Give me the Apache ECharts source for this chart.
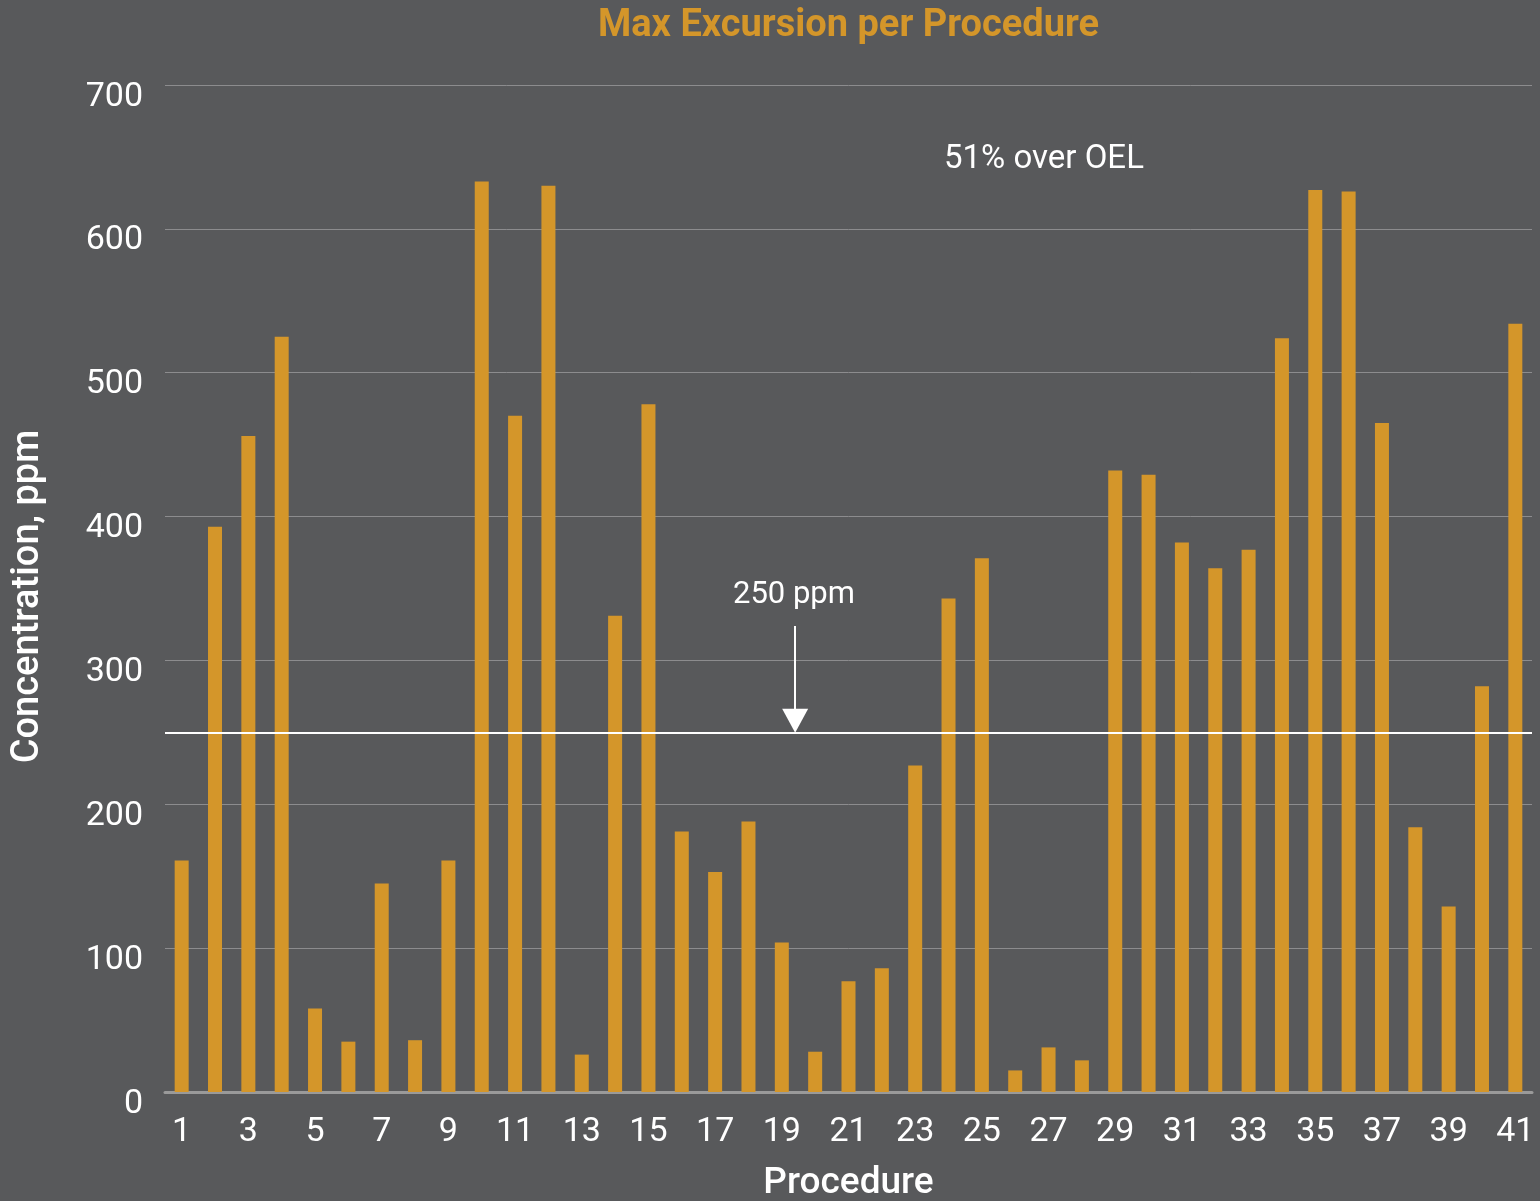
<!DOCTYPE html>
<html lang="en">
<head>
    <meta charset="UTF-8">
    <title>Max Excursion per Procedure</title>
    <script type="text/javascript" src="https://cdn.jsdelivr.net/npm/echarts@6/dist/echarts.min.js"></script>
    <style>
        html, body { margin: 0; padding: 0; background: #58595b; }
        #container { width: 1540px; height: 1201px; }
    </style>
</head>
<body>
<div id="container"></div>
<script type="text/javascript">
    // procedure numbers
    var procedures = [];
    for (var i = 1; i <= 41; i++) { procedures.push(String(i)); }
    // max concentration per procedure, ppm
    var concentration = [161, 393, 456, 525, 58, 35, 145, 36, 161, 633,
        470, 630, 26, 331, 478, 181, 153, 188, 104, 28,
        77, 86, 227, 343, 371, 15, 31, 22, 432, 429,
        382, 364, 377, 524, 627, 626, 465, 184, 129, 282, 534];
    var oel = 250;
    // arrow for the OEL label: x position (procedure), from / to value
    // (the head is centred on its end point, so stop a bit above the line)
    var arrowX = 19.4;
    var arrowFrom = 324;
    var arrowTo = 258;

    var dom = document.getElementById('container');
    var myChart = echarts.init(dom, null, { renderer: 'canvas' });

    var font = 'Roboto, "Noto Sans", sans-serif';
    var option = {
        backgroundColor: '#58595b',
        animation: false,
        textStyle: { fontFamily: font },
        title: {
            text: 'Max Excursion per Procedure',
            left: 593,
            top: 2,
            textStyle: { color: '#d4962a', fontSize: 38, fontWeight: 'bold', fontFamily: font }
        },
        grid: { left: 165, right: 8, top: 85, bottom: 109, outerBoundsMode: 'none' },
        xAxis: [{
            type: 'category',
            data: procedures,
            name: 'Procedure',
            nameLocation: 'middle',
            nameGap: 73,
            nameTextStyle: { color: '#ffffff', fontSize: 37, fontWeight: 500 },
            axisLine: { lineStyle: { color: '#9a9a9a', width: 3 } },
            axisTick: { show: false },
            axisLabel: { color: '#ffffff', fontSize: 34, interval: 1, margin: 23 }
        }, {
            type: 'value',
            min: 0.5,
            max: 41.5,
            show: false
        }],
        yAxis: {
            type: 'value',
            min: 0,
            max: 700,
            interval: 100,
            name: 'Concentration, ppm',
            nameLocation: 'middle',
            nameGap: 118,
            nameTextStyle: { color: '#ffffff', fontSize: 38, fontWeight: 500, padding: [0, 16, 0, 0] },
            axisLine: { show: false },
            axisTick: { show: false },
            splitLine: { lineStyle: { color: '#8c8c8e', width: 1 } },
            axisLabel: { color: '#ffffff', fontSize: 34, margin: 22, verticalAlign: 'top', lineHeight: 24 }
        },
        series: [{
            type: 'bar',
            data: concentration,
            barWidth: 14,
            itemStyle: { color: '#d4962a' },
            markLine: {
                silent: true,
                symbol: 'none',
                label: { show: false },
                lineStyle: { color: '#ffffff', width: 2, type: 'solid' },
                data: [{ yAxis: oel }]
            }
        }, {
            type: 'line',
            xAxisIndex: 1,
            data: [],
            markLine: {
                silent: true,
                symbol: ['none', 'triangle'],
                symbolSize: [26, 24],
                label: { show: false },
                lineStyle: { color: '#ffffff', width: 2, type: 'solid' },
                data: [[{ coord: [arrowX, arrowFrom] }, { coord: [arrowX, arrowTo] }]]
            }
        }],
        graphic: [{
            type: 'text',
            left: 733,
            top: 580,
            style: { text: '250 ppm', fill: '#ffffff', font: '31px ' + font }
        }, {
            type: 'text',
            left: 944,
            top: 143,
            style: { text: '51% over OEL', fill: '#ffffff', font: '33px ' + font }
        }]
    };

    myChart.setOption(option);
    window.addEventListener('resize', myChart.resize);
</script>
</body>
</html>
